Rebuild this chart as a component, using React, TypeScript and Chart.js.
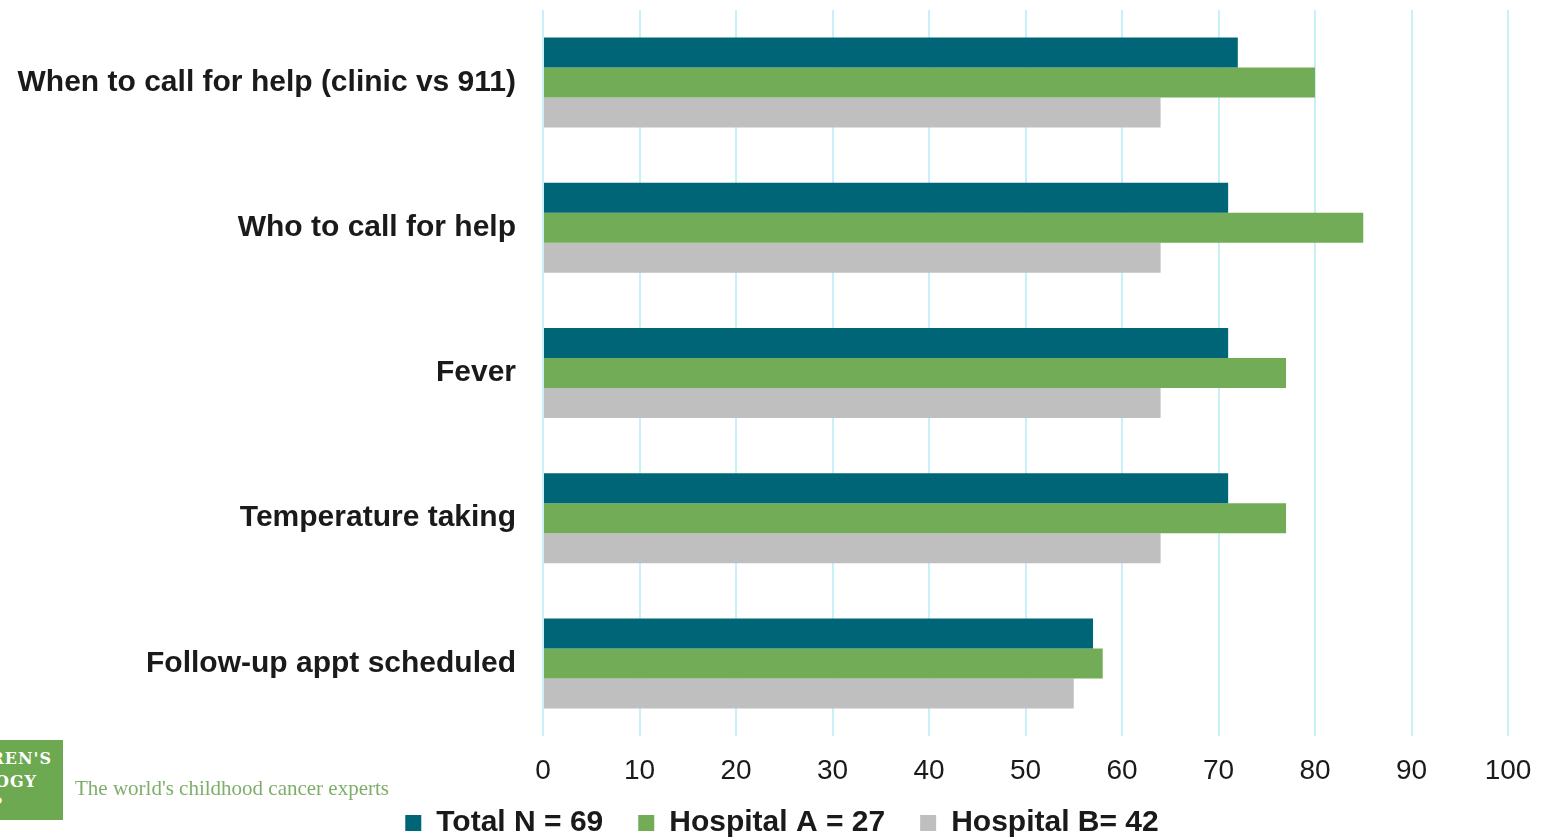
import React, { useEffect, useRef } from "react";
import { Chart, registerables } from "chart.js";

Chart.register(...registerables);

// Survey topics, top to bottom
const categories = [
  "When to call for help (clinic vs 911)",
  "Who to call for help",
  "Fever",
  "Temperature taking",
  "Follow-up appt scheduled",
];

// Percentages per group
const totalValues = [72, 71, 71, 71, 57];
const hospitalAValues = [80, 85, 77, 77, 58];
const hospitalBValues = [64, 64, 64, 64, 55];

const seriesLabels = ["Total N = 69", "Hospital A = 27", "Hospital B= 42"];
const seriesColors = ["#006677", "#72ac56", "#bfbfbf"];

const axisMin = 0;
const axisMax = 100;
const axisStep = 10;

const LABEL_FONT = "'Liberation Sans', Arial, sans-serif";

// Nudges the bottom legend so it sits under the plot rather than the page centre
const legendOffset = {
  id: "legendOffset",
  afterLayout(chart: any) {
    const lg = chart.legend;
    if (lg) {
      lg.left += 28;
      lg.right += 28;
      lg.top += 12;
      lg.bottom += 12;
    }
  },
};

export default function App() {
  const canvasRef = useRef<HTMLCanvasElement | null>(null);

  useEffect(() => {
    if (!canvasRef.current) return;
    const chart = new Chart(canvasRef.current, {
      type: "bar",
      data: {
        labels: categories,
        datasets: [totalValues, hospitalAValues, hospitalBValues].map((values, i) => ({
          label: seriesLabels[i],
          data: values,
          backgroundColor: seriesColors[i],
          borderWidth: 0,
          categoryPercentage: 0.62,
          barPercentage: 1.0,
        })),
      },
      plugins: [legendOffset],
      options: {
        indexAxis: "y",
        animation: false,
        responsive: true,
        maintainAspectRatio: false,
        layout: { padding: { left: 0, right: 35, top: 10, bottom: 3 } },
        plugins: {
          tooltip: { enabled: false },
          legend: {
            position: "bottom",
            labels: {
              boxWidth: 16,
              boxHeight: 16,
              padding: 35,
              color: "#1a1a1a",
              font: { family: LABEL_FONT, size: 30, weight: "bold" },
            },
          },
        },
        scales: {
          x: {
            min: axisMin,
            max: axisMax,
            afterFit: (scale: any) => {
              scale.height = 25;
              scale.paddingLeft = 0;
              scale.paddingRight = 0;
            },
            ticks: {
              stepSize: axisStep,
              mirror: true,
              color: "#1a1a1a",
              padding: -52,
              font: { family: LABEL_FONT, size: 28 },
            },
            grid: { color: "#c8f0f8", lineWidth: 2, drawTicks: false },
            border: { display: false },
          },
          y: {
            afterFit: (scale: any) => {
              scale.width = 543;
              scale.paddingTop = 0;
              scale.paddingBottom = 0;
            },
            ticks: {
              color: "#1a1a1a",
              padding: 27,
              font: { family: LABEL_FONT, size: 30, weight: "bold" },
            },
            grid: { display: false, drawTicks: false },
            border: { display: false },
          },
        },
      },
    });
    return () => chart.destroy();
  }, []);

  return (
    <div
      style={{
        position: "absolute",
        left: 0,
        top: 0,
        width: 1543,
        height: 839,
        background: "#ffffff",
        overflow: "hidden",
      }}
    >
      <canvas ref={canvasRef} style={{ width: "100%", height: "100%" }} />
      <div
        style={{
          position: "absolute",
          left: 0,
          top: 740,
          width: 63,
          height: 80,
          background: "#6ca950",
          overflow: "hidden",
          color: "#ffffff",
          fontFamily: "'DejaVu Serif', serif",
          fontWeight: "bold",
          fontSize: 16,
          lineHeight: "22px",
          letterSpacing: 1,
          whiteSpace: "nowrap",
        }}
      >
        <div style={{ position: "absolute", right: 11, top: 8 }}>CHILDREN'S</div>
        <div style={{ position: "absolute", right: 26, top: 31 }}>ONCOLOGY</div>
        <div style={{ position: "absolute", right: 60, top: 53 }}>GROUP</div>
      </div>
      <div
        style={{
          position: "absolute",
          left: 75,
          top: 776,
          whiteSpace: "nowrap",
          color: "#7fae6b",
          fontFamily: "'Liberation Serif', serif",
          fontSize: 21,
        }}
      >
        The world's childhood cancer experts
      </div>
    </div>
  );
}
